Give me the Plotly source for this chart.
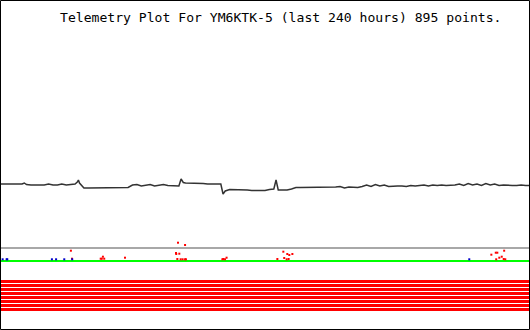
import plotly.graph_objects as go

# ---- data (x in hours over the last 240 h, y in plot units 0..330 bottom-up) ----
hours = [0, 2, 4, 6, 8, 10, 11, 12, 14, 16, 18, 20, 22, 24, 26, 28, 30, 32, 34, 35, 35.5, 36, 37, 38,
         40, 42, 44, 46, 48, 50, 52, 54, 56, 58, 60, 62, 64, 66, 68, 70, 72, 74, 76, 78, 80, 81, 82, 83,
         84, 86, 88, 90, 92, 94, 96, 98, 100, 101, 102, 104, 106, 108, 110, 112, 114, 116, 118, 120,
         122, 124, 125, 125.5, 126, 128, 130, 132, 134, 136, 138, 140, 142, 144, 146, 148, 150, 152,
         154, 156, 158, 160, 162, 164, 166, 168, 170, 172, 174, 176, 178, 180, 182, 184, 186, 188,
         190, 192, 194, 196, 198, 200, 202, 204, 206, 208, 210, 212, 214, 216, 218, 220, 222, 224,
         226, 228, 230, 232, 234, 236, 238, 240]
analog = [146, 146, 146, 146, 145.5, 146, 147, 145.5, 145, 145, 144.5, 145, 146, 145, 145, 146, 145,
          145.5, 146, 148, 150, 147, 144, 142,
          142, 142, 142, 142, 142.5, 142, 142.5, 142, 142.5, 142.5, 145, 145.5, 144, 145, 145.5, 144,
          145, 145.5, 144.5, 144.5, 144, 144, 151, 147.5,
          147, 147, 147, 147, 146.5, 146, 146, 146, 146, 136, 139, 140.5, 140.5, 140.5, 140.5, 140,
          139.5, 139.5, 139.5, 139.5,
          140.5, 141, 150, 144, 140, 140, 140, 141, 142.5, 142.5, 142.5, 143, 142.5, 143, 142.5, 143,
          142.5, 143,
          143.5, 142, 143, 142.5, 142.5, 143.5, 145, 143.5, 145.5, 144, 145, 143.5, 144, 144, 144,
          143.5, 144.5, 144,
          144.5, 145, 144, 145, 144.5, 145, 144.5, 144.5, 145, 146, 144.5, 146.5, 145, 146, 144.5,
          146.5, 145, 146,
          144.5, 145, 144.5, 144.5, 144.5, 145, 144.5, 144.5]

gray_level = 82
green_level = 69

red_hours = [32.1, 32.6, 45.6, 46.1, 46.6, 47.2, 56.6, 80.6, 79.7, 79.8, 81.2, 80.3, 81.8, 82.7, 83.8,
             84.2, 83.8, 100.7, 101.1, 101.9, 102.6, 125.6, 128.3, 130.1, 131.0, 132.4, 128.7, 129.8,
             130.7, 222.5, 224.5, 225.2, 228.3, 226.1, 227.2, 224.7, 228.1, 228.8]
red_vals = [79.3, 71.3, 71.3, 71.3, 73.3, 71.3, 72.3, 87.3, 77, 76, 76.3, 71, 70.7, 70.7, 70.7, 70.7,
            85, 70.7, 71, 70.7, 72.3, 71, 78.3, 76, 75, 76, 72, 70.7, 71, 75.3, 77.3, 77.3, 79.3, 72.3,
            73.3, 70.7, 71, 70.7]

blue_hours = [1.2, 3.0, 3.3, 23.5, 25.4, 29.1, 32.7, 212.5]
blue_vals = [70.7, 70.7, 70.7, 70.7, 70.7, 70.7, 70.7, 70.7]

bit_levels = [48.5, 44.5, 40.5, 36.5, 32.5, 28.5, 24.5, 20.5]

title_text = "Telemetry Plot For YM6KTK-5 (last 240 hours) 895 points."

fig = go.Figure()

# digital bit channels (red stripes)
for lv in bit_levels:
    fig.add_trace(go.Scatter(x=[0, 240], y=[lv, lv], mode="lines",
                             line=dict(color="#ff0000", width=3), hoverinfo="skip"))

# reference lines
fig.add_trace(go.Scatter(x=[0, 240], y=[gray_level, gray_level], mode="lines",
                         line=dict(color="#a8a8a8", width=2), hoverinfo="skip"))
fig.add_trace(go.Scatter(x=[0, 240], y=[green_level, green_level], mode="lines",
                         line=dict(color="#00ff00", width=2), hoverinfo="skip"))

# scattered channels
fig.add_trace(go.Scatter(x=red_hours, y=red_vals, mode="markers",
                         marker=dict(color="#ff0000", size=2, symbol="square", line=dict(width=0))))
fig.add_trace(go.Scatter(x=blue_hours, y=blue_vals, mode="markers",
                         marker=dict(color="#0000cc", size=2, symbol="square", line=dict(width=0))))

# analog channel
fig.add_trace(go.Scatter(x=hours, y=analog, mode="lines",
                         line=dict(color="#333333", width=1.5)))

fig.update_layout(
    width=530, height=330,
    margin=dict(l=0, r=0, t=0, b=0),
    paper_bgcolor="white", plot_bgcolor="white",
    showlegend=False,
    xaxis=dict(range=[0, 240], visible=False, fixedrange=True),
    yaxis=dict(range=[0, 330], visible=False, fixedrange=True),
    shapes=[dict(type="rect", xref="paper", yref="paper",
                 x0=0.5 / 530, x1=529.5 / 530, y0=0.5 / 330, y1=329.5 / 330,
                 line=dict(color="black", width=1))],
    annotations=[dict(text=title_text, xref="paper", yref="paper",
                      x=58 / 530, y=1 - 8 / 330, xanchor="left", yanchor="top",
                      showarrow=False,
                      font=dict(family="DejaVu Sans Mono", size=13.1, color="black"))],
)

fig.write_html("out.html", config={"displayModeBar": False})
